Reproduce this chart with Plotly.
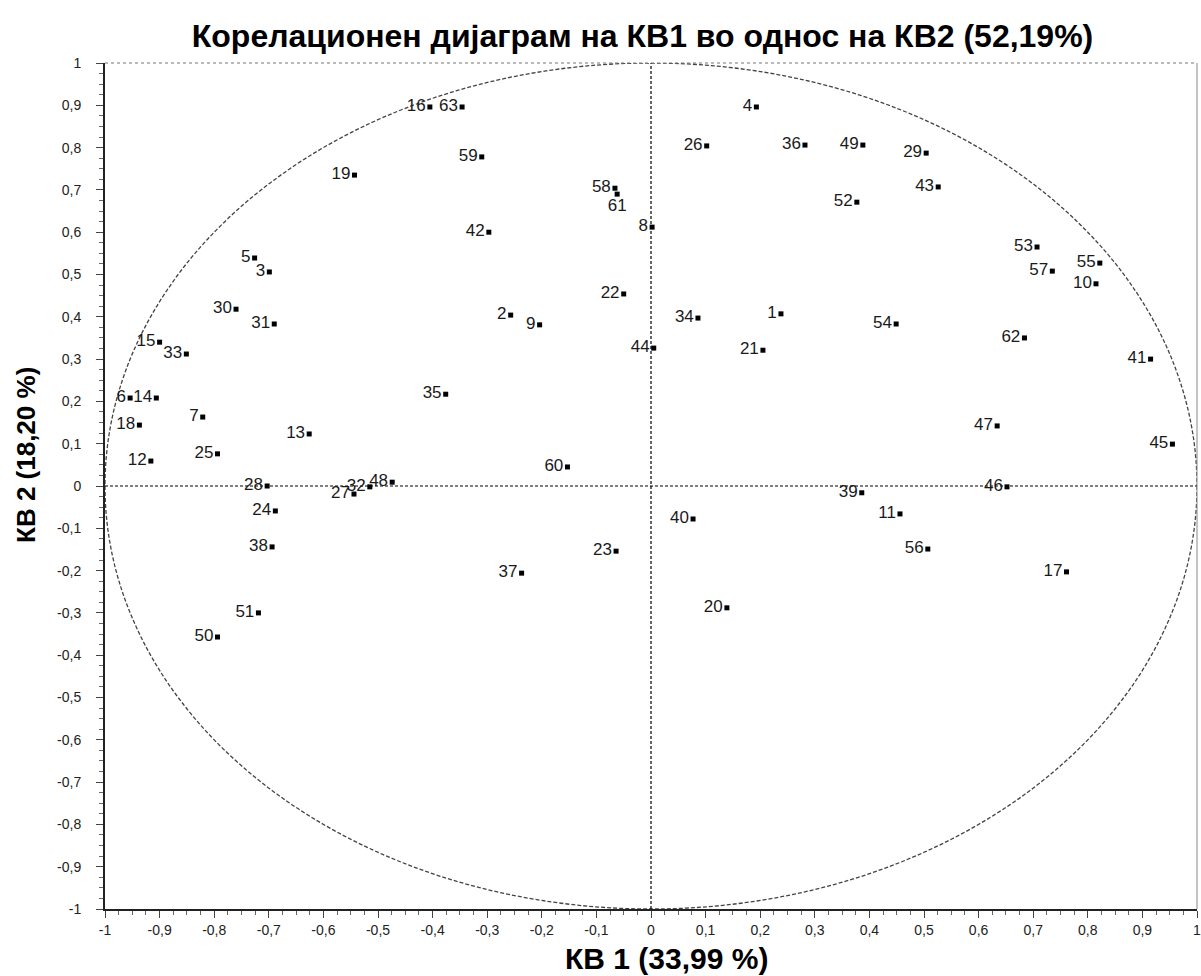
import plotly.graph_objects as go

# ---- data ----
labels = [str(i) for i in range(1, 64)]
kb1 = [0.238, -0.257, -0.699, 0.193, -0.726, -0.954, -0.821, 0.002, -0.204, 0.815,
       0.456, -0.916, -0.626, -0.906, -0.900, -0.405, 0.761, -0.937, -0.543, 0.139,
       0.205, -0.050, -0.064, -0.688, -0.794, 0.102, -0.544, -0.703, 0.504, -0.760,
       -0.690, -0.515, -0.851, 0.086, -0.376, 0.282, -0.237, -0.694, 0.386, 0.077,
       0.915, -0.297, 0.526, 0.005, 0.955, 0.652, 0.634, -0.474, 0.388, -0.794,
       -0.719, 0.377, 0.707, 0.449, 0.822, 0.507, 0.735, -0.066, -0.310, -0.153,
       -0.062, 0.684, -0.346]
kb2 = [0.407, 0.404, 0.506, 0.896, 0.539, 0.208, 0.163, 0.612, 0.381, 0.478,
       -0.066, 0.059, 0.123, 0.208, 0.340, 0.896, -0.203, 0.144, 0.735, -0.288,
       0.321, 0.454, -0.154, -0.059, 0.076, 0.804, -0.019, 0.000, 0.787, 0.418,
       0.383, -0.002, 0.312, 0.397, 0.217, 0.806, -0.206, -0.144, -0.016, -0.078,
       0.300, 0.600, 0.707, 0.326, 0.099, -0.002, 0.142, 0.009, 0.806, -0.357,
       -0.300, 0.671, 0.565, 0.383, 0.527, -0.149, 0.508, 0.704, 0.778, 0.045,
       0.690, 0.350, 0.896]

tick_vals = [round(-1 + 0.1 * i, 1) for i in range(21)]
tick_text = ["-1" if v == -1 else "1" if v == 1 else "0" if v == 0 else f"{v:.1f}".replace(".", ",")
             for v in tick_vals]

title_text = "Корелационен дијаграм на КВ1 во однос на КВ2 (52,19%)"
x_title = "КВ 1 (33,99 %)"
y_title = "КВ 2 (18,20 %)"

FONT = "Liberation Sans, Arial, sans-serif"

text_pos = ["middle left"] * len(labels)
text_pos[labels.index("61")] = "bottom center"

fig = go.Figure()
fig.add_trace(go.Scatter(
    x=kb1, y=kb2, text=labels, mode="markers+text",
    textposition=text_pos,
    marker=dict(symbol="square", size=5, color="black"),
    textfont=dict(family=FONT, size=17, color="#1a1a1a"),
    hoverinfo="text", showlegend=False,
))

# correlation circle and axes through the origin
fig.add_shape(type="circle", xref="x", yref="y", x0=-1, y0=-1, x1=1, y1=1,
              line=dict(color="#444444", width=1.3, dash="4px,2px"), layer="below")
fig.add_shape(type="line", xref="x", yref="y", x0=-1, y0=0, x1=1, y1=0,
              line=dict(color="black", width=1.2, dash="3px,2px"), layer="below")
fig.add_shape(type="line", xref="x", yref="y", x0=0, y0=-1, x1=0, y1=1,
              line=dict(color="black", width=1.2, dash="3px,2px"), layer="below")
# top and right frame
fig.add_shape(type="line", xref="paper", yref="paper", x0=0, y0=1, x1=1, y1=1,
              line=dict(color="#777777", width=1.2, dash="dot"))
fig.add_shape(type="line", xref="paper", yref="paper", x0=1, y0=0, x1=1, y1=1,
              line=dict(color="#888888", width=1))

axis_common = dict(
    range=[-1, 1], tickvals=tick_vals, ticktext=tick_text, automargin=False,
    showgrid=False, zeroline=False, showline=True, linecolor="#222222", linewidth=2,
    ticks="outside", ticklen=7, tickcolor="#444444", tickwidth=1,
    tickfont=dict(family=FONT, size=14, color="#222222"),
    ticklabeloverflow="allow",
    minor=dict(dtick=0.025, tick0=0, ticks="outside", ticklen=4, tickcolor="#666666"),
)

# axis titles as annotations (positioned as in the reference)
fig.add_annotation(text=y_title, xref="paper", yref="paper", x=-0.073, y=0.537,
                   xanchor="center", yanchor="middle", textangle=-90, showarrow=False,
                   font=dict(family=FONT, size=26, color="black", weight="bold"))
fig.add_annotation(text=x_title, xref="paper", yref="paper", x=0.514, y=-0.058,
                   xanchor="center", yanchor="middle", showarrow=False,
                   font=dict(family=FONT, size=30, color="black", weight="bold"))

fig.update_layout(
    width=1201, height=976,
    margin=dict(l=105, r=4, t=63, b=67),
    paper_bgcolor="white", plot_bgcolor="white",
    title=dict(text=title_text, x=0.535, xanchor="center", y=0.963, yanchor="middle",
               font=dict(family=FONT, size=32, color="black", weight="bold")),
    xaxis=dict(**axis_common),
    yaxis=dict(**axis_common, ticklabelstandoff=12),
)

fig.write_html("out.html", config={"displayModeBar": False},
               post_script="document.body.style.margin='0';document.body.style.overflow='hidden';")
